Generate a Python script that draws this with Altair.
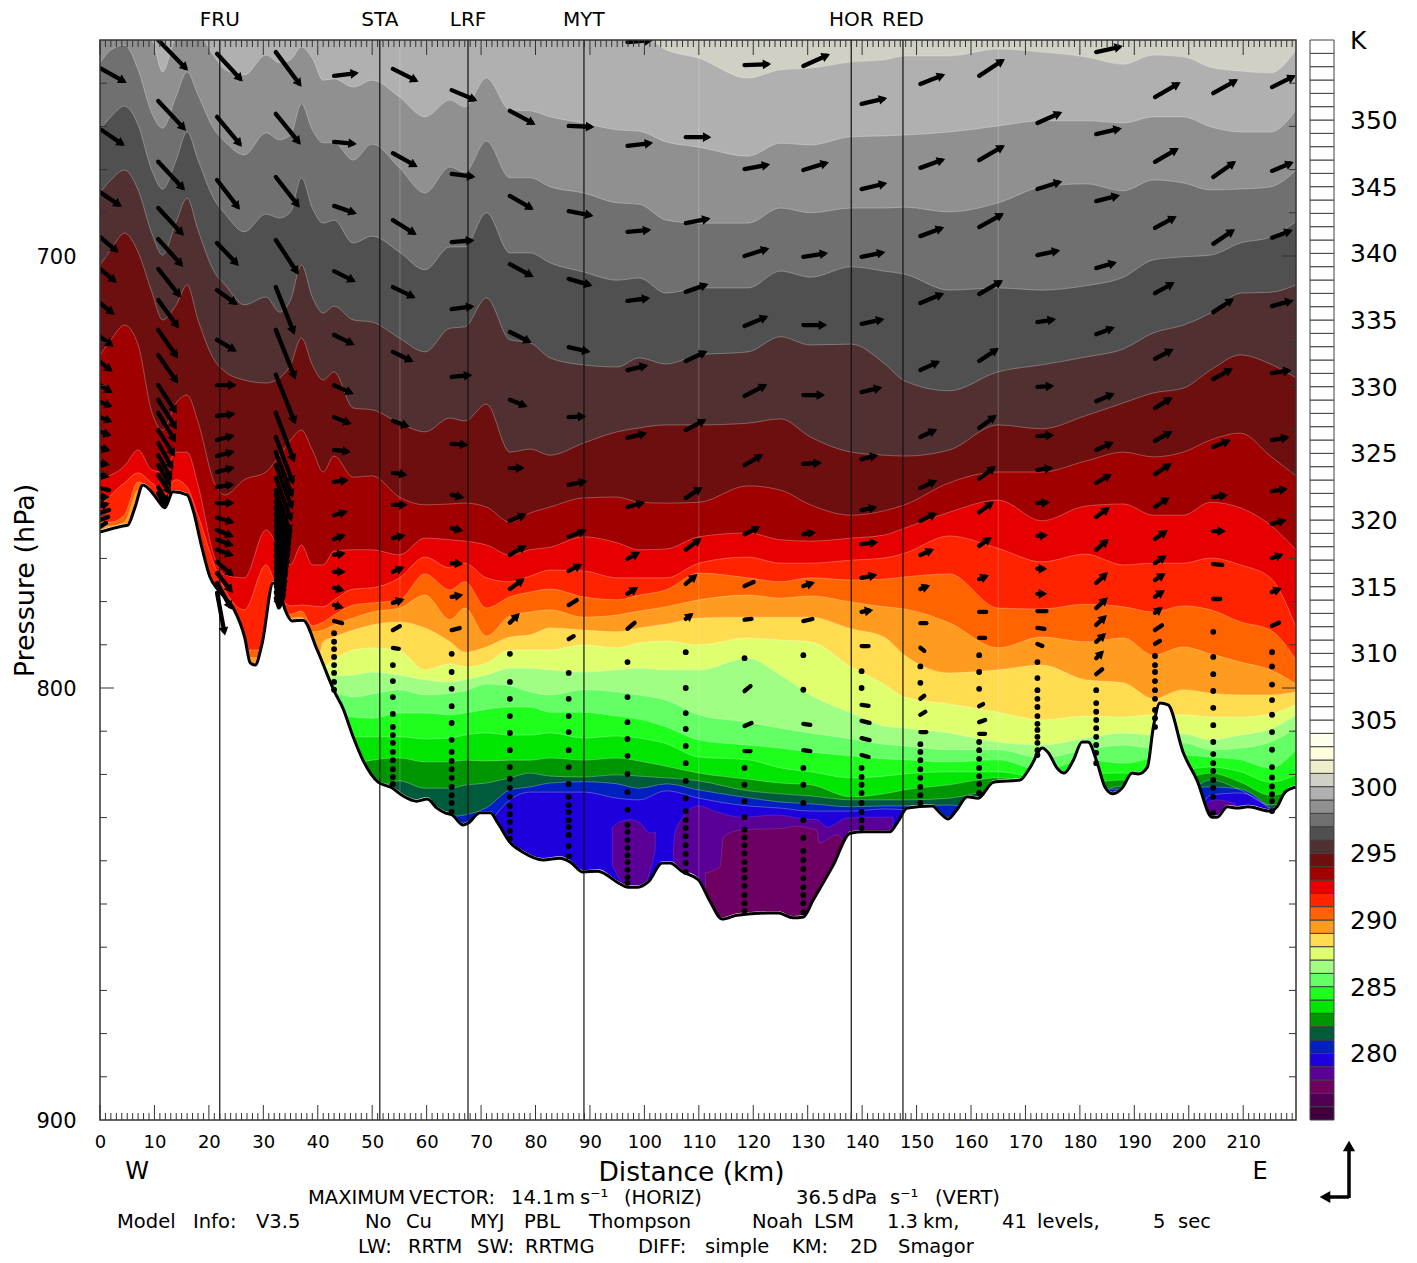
import math
import altair as alt

FONT = "DejaVu Sans"

# ---------- isentrope boundaries (hPa) on a distance grid (km) ----------
GRID = [0,2,4.5,7,9.5,11.5,14,16,18,21,23,26.5,30.5,33,35,37,39,41,43,46.5,50,55,59.7,64.3,67,71,75.3,79,82.7,88.8,95,99,104,110,119,125,130.5,138,144,147.8,156,165,173,181,188,193.5,199,204,209.5,215,219.7]
LOW = GRID[15:]

C0 = [648.5]*32 + [652.3,654.2,658.8,656.9,656.5,655.1,654.6,653.7,653.7,652.1,652.8,653.9,655.6,653.5,653.9,656.3,657.2,657.6,652.3]
C1 = [648.8,648.8,648.8,648.8,650.0,657.4,649.5,648.8,648.8,653.9,656.9,658.1,653.5,655.3,654.6,651.6,654.2,659.3,659.0,660.9,659.3,663.2,667.8,663.9,665.5,658.8,666.2,666.4,667.8,669.2,670.8,671.1,673.6,674.8,676.9,673.9,674.3,672.4,672.2,672.0,671.3,669.9,668.7,668.7,669.2,667.8,667.8,670.1,671.3,671.3,666.2]
C2 = [655.3,652.3,651.2,656.9,666.9,670.4,663.0,657.4,662.7,670.8,673.6,676.6,671.5,673.1,672.0,664.8,670.8,673.8,673.8,677.8,674.1,679.6,685.4,679.4,680.6,673.4,681.9,681.9,684.0,685.4,687.7,688.0,691.7,692.4,692.4,688.9,690.0,688.9,688.9,688.7,689.8,687.7,684.0,683.3,684.9,682.4,683.1,684.7,684.5,684.0,680.1]
C3 = [670.8,667.8,665.3,669.7,680.1,684.5,677.8,671.3,677.8,687.0,690.3,694.4,690.3,691.2,689.8,681.9,688.9,692.4,691.7,697.0,695.4,699.1,703.2,697.9,697.9,690.0,699.3,699.3,701.6,703.7,705.6,705.1,708.6,707.4,707.4,703.5,704.9,702.5,703.5,704.2,707.9,707.4,707.9,706.9,704.9,700.9,700.2,699.8,697.0,695.6,692.1]
C4 = [685.4,682.4,680.1,684.7,694.7,699.8,692.1,686.6,694.0,703.7,706.7,711.3,709.5,713.0,710.2,702.1,709.5,713.2,711.6,714.8,715.3,719.0,722.2,716.7,716.4,709.7,719.4,720.1,723.6,725.2,725.7,723.6,725.0,722.9,722.2,718.7,720.6,720.4,724.8,728.9,731.2,726.8,725.2,723.4,721.5,717.8,716.0,713.2,708.6,708.4,706.7]
C5 = [702.1,698.6,694.7,699.1,708.3,714.8,711.3,706.7,714.8,724.1,726.8,728.7,729.4,728.2,725.2,719.0,725.2,728.7,726.8,735.2,735.6,738.7,740.7,737.5,738.2,734.3,745.4,744.7,746.1,743.3,740.7,739.8,739.1,739.1,738.7,737.7,741.9,745.4,746.1,746.3,744.9,739.1,740.0,737.0,734.0,731.7,730.6,726.4,722.9,725.0,728.2]
C6 = [722.9,719.4,716.0,720.6,736.1,740.3,734.0,732.2,738.4,752.5,755.3,751.8,750.0,746.1,742.6,740.3,744.9,750.0,746.3,751.2,750.9,755.8,757.6,757.4,757.2,758.1,761.6,759.5,758.1,756.0,755.8,757.0,757.2,757.0,753.2,754.2,757.6,760.0,759.0,757.6,752.5,750.0,750.0,747.5,745.4,746.5,745.4,742.6,741.0,746.3,750.9]
C7 = [751.2,750.7,748.6,744.9,749.5,750.0,745.4,745.4,753.0,769.7,773.8,774.5,763.4,768.0,771.5,766.9,771.5,771.5,768.3,768.0,768.0,769.2,765.3,765.7,766.0,766.9,769.2,768.0,767.4,765.0,766.4,768.0,767.8,765.0,764.1,765.7,766.0,765.3,764.6,763.0,759.3,756.5,761.3,757.9,757.4,760.0,760.0,757.0,758.3,762.3,768.0]
C8 = [758.1,755.3,752.5,750.2,752.5,754.2,751.8,753.5,760.0,771.5,777.3,781.9,771.5,778.5,781.0,780.8,781.0,781.2,779.6,777.1,776.8,774.5,769.7,772.2,771.1,774.5,775.4,774.1,772.7,772.9,774.5,774.5,774.5,771.1,769.7,771.1,771.1,770.4,769.9,768.8,764.8,767.7,770.8,769.0,771.5,771.1,771.1,769.9,771.5,774.5,785.9]
C9 = [761.6,761.6,759.9,752.3,754.6,757.6,755.3,755.8,763.4,777.3,782.4,791.2,791.2,782.4,782.9,782.2,785.6,784.7,783.1,780.8,780.3,779.6,773.6,777.3,775.4,781.5,778.9,777.8,777.1,778.9,779.6,778.5,777.3,773.4,774.5,775.4,774.5,775.0,774.8,774.3,773.6,781.5,781.7,780.6,781.2,782.4,781.0,781.9,784.7,786.6,793.5]
C10 = [762.5,762.5,761.6,754.2,755.3,758.3,755.8,756.5,764.6,779.6,784.2,793.0,793.0,784.2,783.8,783.6,787.0,786.6,785.4,783.8,782.4,781.5,778.5,784.2,781.5,788.0,783.3,782.4,781.9,783.6,783.1,782.2,781.2,779.6,778.5,779.2,778.7,780.1,781.2,781.7,784.9,790.7,788.2,789.3,788.4,792.4,790.5,792.1,794.0,795.8,799.1]
C11 = [802.8,802.8,789.3,788.2,786.6,785.4,784.7,786.1,789.3,791.7,790.5,788.2,787.7,786.1,786.6,787.0,786.1,785.2,783.8,783.6,783.6,783.6,786.3,788.2,792.4,796.5,795.8,794.7,798.1,798.8,802.5,800.4,801.2,801.6,801.6,800.9]
C12 = [805.1,803.9,795.8,793.5,791.2,790.7,791.4,795.8,794.4,795.1,794.2,791.2,791.2,791.2,790.0,790.7,789.6,789.1,790.0,788.4,788.9,789.3,795.1,799.1,802.1,803.7,805.6,807.4,806.5,806.7,806.2,806.2,806.7,806.7,806.0,803.9]
C13 = [807.4,806.2,801.6,797.2,797.0,796.3,797.0,798.1,798.6,798.1,797.0,795.4,795.4,795.8,796.3,795.8,795.4,795.8,795.8,793.1,797.0,801.6,805.8,808.8,809.3,810.4,812.5,813.2,811.6,810.4,810.9,810.6,812.0,810.9,809.5,806.2]
C14 = [809.7,808.6,805.1,801.2,802.1,801.4,800.4,801.6,801.2,800.7,799.1,799.5,800.9,801.6,800.4,800.9,801.6,802.8,806.2,807.9,809.3,810.4,811.8,813.0,813.4,814.3,814.3,816.2,814.3,813.2,813.9,812.7,814.3,813.9,812.5,809.3]
C15 = [812.0,810.9,808.6,806.2,806.7,807.0,805.8,805.8,806.2,805.8,804.9,804.4,804.4,805.6,805.6,806.5,807.2,809.0,812.0,813.2,813.9,814.8,815.7,816.4,816.6,817.1,816.6,819.0,816.6,817.4,816.2,815.5,816.0,816.6,818.5,814.3]
C16 = [816.6,815.5,813.2,812.0,811.3,811.3,811.3,811.8,811.6,810.9,810.4,810.9,810.9,810.4,811.6,811.1,811.6,812.9,816.0,816.6,818.5,819.4,820.8,820.4,819.9,819.4,819.4,820.8,819.9,819.7,820.1,819.0,818.3,819.4,821.8,820.1]
C17 = [823.6,822.4,820.1,819.0,817.8,816.7,816.2,817.1,817.1,816.7,816.9,816.7,816.7,816.2,816.7,816.2,816.9,818.1,819.7,821.1,822.0,822.4,825.2,824.5,823.6,822.4,820.8,822.4,822.0,821.3,823.6,821.3,819.7,821.8,824.8,823.6]
C18 = [828.2,828.2,825.9,825.9,824.8,823.6,821.5,823.2,823.2,822.5,822.0,820.8,819.7,820.4,820.6,820.1,820.4,820.8,821.5,823.8,824.5,825.0,825.9,825.9,825.9,825.5,823.6,825.9,824.8,822.7,825.9,824.8,821.3,823.6,827.1,825.9]
C19 = [834.0,834.0,834.0,834.0,834.0,834.0,834.0,832.8,829.9,829.4,827.7,823.6,822.9,822.0,821.7,822.2,823.2,822.2,823.6,825.4,826.4,826.8,827.5,827.3,827.3,827.1,829.4,832.8,823.6,823.4,823.6,823.1,822.9,823.4,827.8,832.8]
C20 = [835.2,835.2,835.2,835.2,835.2,835.2,835.2,835.2,835.2,835.2,831.7,825.9,824.1,824.1,824.1,825.5,825.9,823.8,825.5,827.3,827.8,828.5,828.5,828.0,828.2,835.2,835.2,835.2,835.2,835.2,835.2,835.2,824.8,824.3,828.2,835.2]

COL_CREAM = "#d0d0c4"
UPPER_COLORS = ["#b0b0b0","#909090","#707070","#505050","#503030","#6e0f0f","#a00000","#e60000","#ff2300","#ff6400","#ff9b1e"]
LOWER_COLORS = ["#ffdc50","#e0ff6e","#a0ff82","#64ff64","#1eff1e","#00e600","#009600","#005a3c","#0020c0","#1e00dc"]
UPPER = [C0,C1,C2,C3,C4,C5,C6,C7,C8,C9,C10]
LOWER = [C11,C12,C13,C14,C15,C16,C17,C18,C19,C20]

# purple pools in the basin: distance, top, bottom
COL_PURPLE = "#5a0096"
COL_MAGENTA = "#6e0064"
POOL_A_KM = [94.1,95.5,97.4,99.2,101.0,102.0]
POOL_A_TOP = [832.2,831.0,830.5,831.2,833.6,833.3]
POOL_A_BOT = [841.0,844.4,847.2,847.2,842.6,837.5]
POOL_B_KM = [105.3,105.6,107.1,109.9,113.4,117.6,124.4,129.2,131.7,133.6,137.2,140.9,145.7]
POOL_B_TOP = [838.2,833.6,829.9,827.3,828.7,829.9,829.4,830.3,830.5,832.2,830.1,829.9,829.9]
POOL_B_BOT = [838.7,841.7,860,860,860,860,860,860,860,860,860,860,860]
POOL_C_KM = [203.0,203.4,205.2,207.6,208.9]
POOL_C_TOP = [830.0,826.6,825.9,826.4,827.1]
POOL_C_BOT = [835,835,835,835,835]
POOL_D_KM = [111.2,113.9,114.5,117.6,126.2,127.3,131.7,132.1,135.4,136.9]
POOL_D_TOP = [842.8,841.4,834.5,832.9,832.4,832.0,832.9,835.9,834.0,836.3]
POOL_D_BOT = [860,860,860,860,860,860,860,860,860,860]

# ---------- terrain ----------
TERRAIN_KM = [0,4.2,5.1,6.4,7.9,9.2,10.5,11.9,13.4,16.0,17.1,18.7,20.2,21.7,24.4,26.6,27.6,28.5,29.8,31.8,32.9,34.0,35.3,37.3,39.9,43.2,44.6,46.5,48.3,51.1,53.6,55.7,58.2,60.1,61.9,63.4,64.7,66.7,67.6,69.8,71.7,73.1,75.3,77.7,81.4,84.5,86.4,88.7,91.5,95.2,97.0,98.8,100.7,103.3,104.7,107.1,109.9,112.1,114.3,117.0,122.5,124.6,127.3,129.2,131.0,134.7,137.8,140.5,145.1,146.4,148.3,152.9,154.3,155.8,157.4,159.3,161.3,164.1,169.0,170.9,173.1,174.2,175.8,177.1,178.8,180.4,181.5,183.2,184.6,186.1,187.8,189.6,190.7,192.4,193.5,194.7,196.2,199.0,201.5,204.3,205.2,207.1,208.9,210.9,215.0,216.2,217.7,219.7]
TERRAIN_P = [763.9,762.5,762.3,758.3,753.0,754.2,756.3,758.3,754.6,755.3,758.8,767.4,774.3,777.3,781.3,788.4,794.2,794.7,789.6,775.7,777.3,781.9,784.5,784.3,791.2,801.2,804.6,811.3,816.7,821.8,823.1,825.0,826.2,825.7,827.8,828.9,829.4,831.7,831.3,828.9,828.9,831.3,835.7,838.0,839.8,839.4,840.3,842.6,842.4,845.1,846.1,846.1,844.9,840.5,840.5,842.6,844.4,849.5,853.5,852.6,852.1,852.1,853.2,853.0,849.1,841.0,833.6,833.3,833.3,831.3,827.8,827.3,828.9,830.3,828.2,825.2,825.5,821.8,821.3,818.3,813.9,815.0,818.5,819.7,816.7,812.5,812.5,817.4,822.9,824.5,823.1,819.7,819.9,818.3,809.0,803.5,803.9,815.0,821.3,829.9,829.9,827.5,827.8,827.5,828.5,827.5,824.1,822.9]

# ---------- stations ----------
STATIONS = ["FRU","STA","LRF","MYT","HOR","RED"]
STATION_KM = [22.0,51.4,67.6,88.9,138.0,147.5]
SEAM_KM = [55.1,110.0,165.0]

# ---------- wind vectors per column: tail pressure (hPa), u (m/s), w (dPa/s), calm dots (hPa) ----------
COL_KM = [0,10.7,21.5,32.3,43,53.8,64.6,75.3,86.1,96.9,107.6,118.4,129.2,139.9,150.7,161.5,172.2,183,193.8,204.5,215.3]
P00 = [656.5,670.6,685.2,695.6,703.0,710.9,718.7,724.5,729.9,733.8,737.3,740.7,744.4,747.9,750.7,753.7,755.8,757.9,759.5,761.1,762.7]
U00 = [13.1,12.2,10.7,9.2,8.3,7.3,6.8,6.3,6.3,6.3,6.3,5.8,5.3,4.9,4.9,4.4,4.9,4.9,4.4,3.9,2.9]
W00 = [9.4,10.7,9.4,10.1,8.8,7.5,6.3,6.3,5.0,3.1,3.1,2.5,1.9,1.3,1.3,1.3,0,-1.9,-1.9,-1.9,-2.5]
D00 = []
P01 = [650.0,664.1,678.2,688.9,696.1,703.0,710.2,717.1,722.9,729.9,733.3,736.3,740.3,743.3,746.1,748.4,750.7,753.5,754.9]
U01 = [14.6,13.6,13.1,12.6,12.2,11.2,10.2,9.7,9.7,9.2,9.2,8.7,8.3,7.3,6.8,6.3,6.3,4.9,3.9]
W01 = [19.5,18.9,18.2,17.6,17.6,18.2,18.2,18.2,18.2,18.2,18.9,18.9,17.0,17.0,15.7,13.8,12.6,10.7,9.4]
D01 = []
P02 = [653.2,667.8,682.4,697.0,707.9,719.4,729.9,737.0,742.6,746.3,750.0,753.5,757.2,760.6,763.4,765.7,768.0,770.8,773.4,775.7,778.0]
U02 = [12.6,12.2,11.2,10.7,10.2,9.7,9.7,9.2,8.7,8.7,8.7,8.7,8.7,8.7,8.3,8.3,8.3,8.3,7.8,7.3,3.9]
W02 = [17.6,18.9,18.9,14.5,9.4,7.5,0,-1.3,-3.1,-3.1,-3.1,-1.9,0,3.1,4.4,3.8,3.8,9.4,12.6,17.0,27.0]
D02 = []
P03 = [652.8,667.1,681.7,696.3,707.2,717.1,727.5,736.3,741.9,745.4,748.4,751.4,754.2,755.3,756.9,758.3,759.7,761.1,762.5,763.9,765.3,766.7,768.0,769.4,770.8,772.2,773.6,775.0,776.4,777.8,779.2]
U03 = [12.6,12.2,11.7,11.2,9.2,9.7,9.7,9.2,8.7,8.3,8.3,7.8,7.3,7.3,6.9,6.6,6.3,5.9,5.6,5.3,4.9,4.6,4.4,4.1,3.9,3.6,3.4,2.9,2.6,2.2,1.5]
W03 = [22.0,19.5,19.5,22.0,30.2,31.5,31.5,31.5,30.2,28.9,28.3,27.7,27.7,27.7,27.7,27.7,27.7,27.7,27.7,26.4,26.4,25.2,25.2,24.0,23.0,22.0,20.0,17.0,14.0,10.0,5.7]
D03 = []
P04 = [658.3,673.6,688.4,703.5,718.3,729.9,737.3,744.9,752.3,760.0,765.5,769.2,773.1,776.8,780.8,784.5]
U04 = [12.2,11.2,11.2,10.7,10.2,9.7,8.7,8.3,7.3,6.8,5.8,5.8,5.8,5.3,4.9,3.9]
W04 = [-1.9,1.3,5.0,6.9,6.3,5.7,4.4,1.3,-1.3,-2.5,-2.5,-1.3,0,1.9,1.9,1.3]
D04 = [787.3,789.3,791.0,792.8,794.7,796.5,798.6,800.4]
P05 = [656.7,676.2,691.7,707.2,722.2,738.2,750.2,757.6,765.3,773.1,780.3,786.6,790.7]
U05 = [12.6,12.2,11.7,11.2,10.2,8.3,7.3,7.3,6.3,5.8,5.8,3.4,2.9]
W05 = [8.2,8.8,9.4,6.9,6.3,3.8,1.3,0,-1.9,-3.1,-2.5,-2.5,0.6]
D05 = [794.7,798.4,802.1,806.0,809.0,810.9,812.7,814.8,816.7,818.8,820.6,822.2]
P06 = [661.6,681.0,696.8,712.3,728.0,743.5,755.3,763.0,771.1,778.9,786.6]
U06 = [12.6,11.7,11.2,11.2,10.2,8.3,6.3,5.8,5.8,5.8,3.9]
W06 = [6.9,1.9,-1.3,-1.9,-1.3,0.6,1.9,1.9,0.6,-1.3,-1.3]
D06 = [792.1,796.3,800.2,804.2,808.1,812.0,814.8,816.9,818.8,820.8,822.9,824.8,826.6,828.7]
P07 = [666.4,686.1,701.9,717.6,733.3,749.1,761.3,769.2,777.1,784.9]
U07 = [12.6,11.7,11.7,10.7,8.7,7.3,8.3,8.3,7.3,4.9]
W07 = [8.8,8.8,8.2,6.9,4.4,0,-4.4,-6.3,-6.9,-6.3]
D07 = [792.1,798.6,802.5,806.5,810.4,814.4,818.3,821.0,823.1,825.2,827.3,829.2,831.0,833.1,834.9]
P08 = [669.9,689.6,705.3,721.1,737.3,753.0,765.0,772.9,780.8,788.7]
U08 = [12.6,12.2,11.7,10.7,8.7,9.2,8.7,6.8,3.9,2.4]
W08 = [0.6,3.1,4.4,3.1,-0.6,-2.5,-4.4,-4.4,-3.1,-1.9]
D08 = [796.5,802.5,806.5,810.2,814.4,818.3,822.2,825.2,827.1,828.7,830.6,832.2,834.0,836.6,838.9]
P09 = [650.5,674.5,694.4,710.4,726.4,742.1,758.1,770.1,778.2,786.3]
U09 = [12.6,12.6,11.7,11.2,10.2,9.7,8.7,6.3,5.3,3.4]
W09 = [-1.3,-1.9,-1.3,-1.9,-3.1,-3.1,-3.1,-4.4,-4.4,-3.8]
D09 = [794.0,802.1,807.9,811.8,815.7,819.9,824.1,828.2,831.7,833.3,835.2,837.0,838.7,840.3,842.1,843.8,845.1]
P10 = [672.5,692.4,708.3,724.3,740.3,756.0,768.0,775.9,784.0]
U10 = [12.6,12.2,11.2,10.7,10.2,8.3,7.8,5.8,3.9]
W10 = [0,-3.1,-5.0,-6.3,-6.9,-6.9,-7.5,-6.3,-3.8]
D10 = [791.7,800.0,805.8,809.5,813.4,817.4,821.5,825.5,828.5,830.6,832.4,834.3,836.4,838.4,840.5,842.6]
P11 = [655.8,679.9,700.0,716.2,732.4,748.4,764.4,776.4,784.2,800.7,808.8,814.6]
U11 = [13.1,12.6,12.2,11.7,11.2,9.2,7.8,4.4,3.4,2.9,3.4,2.9]
W11 = [-0.6,-3.1,-5.0,-6.3,-7.5,-6.9,-5.0,-2.5,-0.6,-3.1,-1.9,0]
D11 = [793.1,818.5,822.4,826.2,829.9,832.8,834.6,836.4,838.3,840.3,842.1,843.9,845.8,847.9,849.8,851.6]
P12 = [656.0,680.1,700.2,716.0,732.2,748.1,764.4,776.4,784.5,808.3,814.4]
U12 = [13.1,12.6,12.2,11.7,10.7,9.2,6.3,5.8,4.4,3.4,3.4]
W12 = [-7.5,-5.0,-2.5,0,0,-0.6,-1.3,-2.5,-1.3,0.6,0.6]
D12 = [792.4,800.4,818.5,822.4,826.6,830.6,834.7,837.7,839.8,841.9,844.0,846.1,847.9,849.8,851.9]
P13 = [664.8,684.5,700.2,715.7,731.5,747.0,758.8,766.7,774.5,782.4,790.3,803.9,807.6,811.6,815.5]
U13 = [12.6,12.6,11.7,11.2,10.2,8.3,7.8,8.3,7.8,5.8,3.4,3.4,3.9,3.9,3.4]
W13 = [-3.8,-3.8,-3.1,-3.1,-3.1,-2.5,-1.9,-1.3,-1.9,-1.3,0,0.6,1.3,1.3,1.3]
D13 = [796.1,800.0,818.5,820.6,822.4,824.3,826.6,828.7,830.6,832.4]
P14 = [660.2,679.6,695.4,710.9,726.4,741.9,753.7,761.3,769.2,777.1,785.0,790.7,802.5,806.2,810.2]
U14 = [12.2,12.2,11.7,11.7,9.7,8.3,8.3,8.3,6.8,4.9,2.9,1.9,1.9,2.4,2.9]
W14 = [-6.3,-5.7,-5.7,-6.3,-5.7,-5.0,-5.0,-5.0,-3.8,-2.5,0,1.9,-1.9,-1.9,0]
D14 = [795.0,798.8,813.0,814.8,816.7,818.8,820.8,822.9,824.8,826.6]
P15 = [658.3,677.8,693.3,708.8,724.3,739.8,751.6,759.3,767.1,774.8,782.4,788.4,804.2,807.9,810.6]
U15 = [12.6,12.6,12.2,11.7,9.7,8.7,8.3,7.3,6.3,4.9,3.4,2.9,1.9,2.9,2.9]
W15 = [-10.7,-9.4,-8.8,-8.8,-8.2,-8.2,-8.2,-6.9,-5.7,-2.5,0,0,-1.3,-1.3,0]
D15 = [792.4,796.3,800.2,812.5,814.4,816.4,818.5,820.4,822.2,824.3]
P16 = [669.2,684.5,699.8,715.3,730.3,741.7,749.5,757.2,764.8,772.4,778.2,782.2,786.1,789.8]
U16 = [12.2,12.2,11.2,9.2,8.3,8.3,7.8,6.3,5.3,4.9,4.9,4.4,3.4,2.4]
W16 = [-6.9,-5.0,-3.1,-1.9,-0.6,-0.6,-1.3,-0.6,-0.6,0,0,0,0.6,1.3]
D16 = [794.0,797.7,800.5,802.5,804.4,806.5,808.3,809.7,811.3,812.7,814.4,815.5]
P17 = [652.8,671.8,687.3,702.8,718.1,733.6,744.9,752.5,760.4,768.0,775.7,781.5,785.4,789.3,793.1,796.8]
U17 = [13.1,12.6,11.7,10.2,9.2,9.2,8.7,7.8,6.8,6.3,5.8,5.8,5.3,4.9,3.9,2.9]
W17 = [-3.8,-3.8,-3.8,-3.8,-4.4,-5.0,-5.0,-5.7,-6.3,-6.9,-6.9,-6.9,-6.3,-5.7,-5.0,-3.1]
D17 = [800.5,803.5,805.5,807.4,809.3,811.3,813.2,815.0,817.4]
P18 = [663.2,678.2,693.5,708.6,723.8,735.2,742.8,750.5,758.1,765.5,771.1,775.0,778.9,782.6,786.6,789.8]
U18 = [12.6,11.7,10.7,9.7,9.2,8.7,8.7,8.3,7.3,6.3,5.8,5.3,4.9,3.9,3.4,2.4]
W18 = [-9.4,-8.8,-7.5,-6.9,-6.3,-6.9,-6.3,-6.9,-6.3,-5.7,-5.0,-4.4,-4.4,-3.8,-3.1,-1.9]
D18 = [792.6,794.7,796.3,798.4,800.5,802.5,805.1,807.0,809.0]
P19 = [662.3,681.7,697.2,713.0,728.5,744.2,755.8,763.7,771.3,779.4]
U19 = [12.2,11.2,10.7,10.2,9.7,8.7,7.3,6.3,4.4,3.4]
W19 = [-8.8,-10.1,-9.4,-8.8,-6.9,-4.4,-1.3,0,0.6,0]
D19 = [787.0,792.8,796.8,800.7,804.6,808.6,812.5,815.3,817.4,819.2,821.3,823.1,825.2,828.9]
P20 = [660.9,680.3,695.8,711.6,727.1,742.6,754.4,762.0,769.9,777.8,785.6]
U20 = [11.7,10.7,10.2,10.7,9.7,8.7,7.8,7.3,5.8,4.9,3.4]
W20 = [-7.5,-5.7,-5.0,-3.8,-1.9,-1.9,-1.3,-2.5,-2.5,-2.5,-1.9]
D20 = [791.7,795.0,799.2,802.8,806.2,810.2,814.3,818.3,820.7,822.8,824.6,826.2,828.5]

COLUMNS = [(COL_KM[0],P00,U00,W00,D00),(COL_KM[1],P01,U01,W01,D01),(COL_KM[2],P02,U02,W02,D02),(COL_KM[3],P03,U03,W03,D03),
           (COL_KM[4],P04,U04,W04,D04),(COL_KM[5],P05,U05,W05,D05),(COL_KM[6],P06,U06,W06,D06),(COL_KM[7],P07,U07,W07,D07),
           (COL_KM[8],P08,U08,W08,D08),(COL_KM[9],P09,U09,W09,D09),(COL_KM[10],P10,U10,W10,D10),(COL_KM[11],P11,U11,W11,D11),
           (COL_KM[12],P12,U12,W12,D12),(COL_KM[13],P13,U13,W13,D13),(COL_KM[14],P14,U14,W14,D14),(COL_KM[15],P15,U15,W15,D15),
           (COL_KM[16],P16,U16,W16,D16),(COL_KM[17],P17,U17,W17,D17),(COL_KM[18],P18,U18,W18,D18),(COL_KM[19],P19,U19,W19,D19),
           (COL_KM[20],P20,U20,W20,D20)]

# ---------- colour bar ----------
BAR_COLORS = ["#40003f","#4f0050","#6e0064","#5a0096","#1e00dc","#0020c0","#005a3c","#009600","#00e600","#1eff1e","#64ff64","#a0ff82","#e0ff6e","#ffdc50","#ff9b1e","#ff6400","#ff2300","#e60000","#a00000","#6e0f0f","#503030","#505050","#707070","#909090","#b0b0b0","#d0d0c4","#eeeecc","#ffffdd","#ffffee"]
BAR_START = 275
BAR_END = 356
BAR_LABELS = [280,285,290,295,300,305,310,315,320,325,330,335,340,345,350]

W = 1196
H = 1080
XS = alt.Scale(domain=[0,219.7], nice=False, zero=False)
YS = alt.Scale(domain=[900,650], nice=False, zero=False)
TS = alt.Scale(domain=[BAR_START,BAR_END], nice=False, zero=False)
KM_PER_MS = 0.3779
HPA_PER_DPA = 0.3678
PX_PER_KM = W/219.7
PX_PER_HPA = H/250.0


def X(f="km"):
    return alt.X(f"{f}:Q", scale=XS, axis=None)


def Y(f="p"):
    return alt.Y(f"{f}:Q", scale=YS, axis=None)


layers = []

# base (carries the axes)
base_rows = [{"km":0,"p":650,"b":900},{"km":219.7,"p":650,"b":900}]
layers.append(alt.Chart(alt.Data(values=base_rows)).mark_area(color=COL_CREAM).encode(
    x=alt.X("km:Q", scale=XS, axis=alt.Axis(
        values=list(range(0,220,10)), title="Distance (km)", format="d", ticks=False, domain=False, grid=False,
        labelFont=FONT, labelFontSize=18, labelColor="black", labelPadding=13, labelFlush=False, labelOverlap=False,
        titleFont=FONT, titleFontSize=26.5, titleFontWeight="normal", titleColor="black", titlePadding=8, titleX=591)),
    y=alt.Y("p:Q", scale=YS, axis=alt.Axis(
        values=[700,800,900], title="Pressure (hPa)", format="d", ticks=False, domain=False, grid=False,
        labelFont=FONT, labelFontSize=21, labelColor="black", labelPadding=24, labelOffset=1, labelFlush=False, labelOverlap=False,
        titleFont=FONT, titleFontSize=27, titleFontWeight="normal", titleColor="black", titlePadding=-4)),
    y2=alt.Y2("b:Q")))

line_rows = []
def add_band(kms, ps, color, name):
    rows = [{"km":k,"p":p,"b":900,"band":name} for k,p in zip(kms,ps,strict=True)]
    line_rows.extend(rows)
    layers.append(alt.Chart(alt.Data(values=rows)).mark_area(color=color, interpolate="monotone", clip=True).encode(
        x=X(), y=Y(), y2=alt.Y2("b:Q")))

for i,(c,col) in enumerate(zip(UPPER,UPPER_COLORS,strict=True)):
    add_band(GRID,c,col,f"u{i}")
for i,(c,col) in enumerate(zip(LOWER,LOWER_COLORS,strict=True)):
    add_band(LOW,c,col,f"l{i}")

def add_pool(kms,top,bot,color):
    rows = [{"km":k,"p":t,"b":b} for k,t,b in zip(kms,top,bot,strict=True)]
    layers.append(alt.Chart(alt.Data(values=rows)).mark_area(color=color, interpolate="monotone", clip=True, stroke="#ffffff", strokeOpacity=0.2, strokeWidth=0.6).encode(
        x=X(), y=Y(), y2=alt.Y2("b:Q")))

add_pool(POOL_A_KM,POOL_A_TOP,POOL_A_BOT,COL_PURPLE)
add_pool(POOL_B_KM,POOL_B_TOP,POOL_B_BOT,COL_PURPLE)
add_pool(POOL_C_KM,POOL_C_TOP,POOL_C_BOT,COL_PURPLE)
add_pool(POOL_D_KM,POOL_D_TOP,POOL_D_BOT,COL_MAGENTA)

# pale contour lines
layers.append(alt.Chart(alt.Data(values=line_rows)).mark_line(color="#ffffff", opacity=0.35, strokeWidth=0.8, interpolate="monotone", clip=True).encode(
    x=X(), y=Y(), detail="band:N"))

# pale seams
layers.append(alt.Chart(alt.Data(values=[{"km":k} for k in SEAM_KM])).mark_rule(color="#ffffff", opacity=0.22, strokeWidth=1).encode(x=X()))

# terrain mask
ter_rows = [{"km":k,"p":p,"m":p-0.45,"b":900} for k,p in zip(TERRAIN_KM,TERRAIN_P,strict=True)]
layers.append(alt.Chart(alt.Data(values=ter_rows)).mark_area(color="#ffffff", interpolate="monotone", clip=True).encode(
    x=X(), y=Y("m"), y2=alt.Y2("b:Q")))

# station lines
layers.append(alt.Chart(alt.Data(values=[{"km":k} for k in STATION_KM])).mark_rule(color="#111111", strokeWidth=1.2).encode(x=X()))

layers.append(alt.Chart(alt.Data(values=ter_rows)).mark_line(color="#000000", strokeWidth=3, interpolate="monotone", clip=True).encode(
    x=X(), y=Y()))

# vectors
vec_rows, head_rows, dot_rows = [], [], []
for km,ps,us,ws,ds in COLUMNS:
    for p,u,w in zip(ps,us,ws,strict=True):
        dxp = u*KM_PER_MS*PX_PER_KM
        dyp = w*HPA_PER_DPA*PX_PER_HPA
        L = math.hypot(dxp,dyp)
        if L >= 10:
            t = 1-4.5/L
            hx = km+u*KM_PER_MS*t
            hp = p+w*HPA_PER_DPA*t
            head_rows.append({"km":hx,"p":hp,"a":(math.degrees(math.atan2(dxp,-dyp))+360)%360})
        else:
            t = 1.0
        vec_rows.append({"km":km,"p":p,"km2":km+u*KM_PER_MS*t,"p2":p+w*HPA_PER_DPA*t})
    for p in ds:
        dot_rows.append({"km":km,"p":p})

layers.append(alt.Chart(alt.Data(values=vec_rows)).mark_rule(color="#000000", strokeWidth=4.3, strokeCap="round", clip=True).encode(
    x=X(), y=Y(), x2=alt.X2("km2:Q"), y2=alt.Y2("p2:Q")))
layers.append(alt.Chart(alt.Data(values=head_rows)).mark_point(shape="triangle-up", filled=True, size=95, color="#000000", opacity=1, clip=True).encode(
    x=X(), y=Y(), angle=alt.Angle("a:Q", scale=None)))
layers.append(alt.Chart(alt.Data(values=dot_rows)).mark_point(shape="circle", filled=True, size=34, color="#000000", opacity=1, clip=True).encode(
    x=X(), y=Y()))

# ticks
TICK = "#333333"
minor_x = [{"km":k} for k in range(0,220) if k%10]
major_x = [{"km":k} for k in range(0,220,10)]
minor_y = [{"p":p} for p in range(660,900,10) if p%100]
major_y = [{"p":p} for p in (700,800)]
for rows,ln in ((minor_x,7),(major_x,15)):
    layers.append(alt.Chart(alt.Data(values=rows)).mark_rule(color=TICK,strokeWidth=1).encode(x=X(),y=alt.value(H),y2=alt.value(H-ln)))
    layers.append(alt.Chart(alt.Data(values=rows)).mark_rule(color=TICK,strokeWidth=1).encode(x=X(),y=alt.value(0),y2=alt.value(ln)))
for rows,ln in ((minor_y,7),(major_y,14)):
    layers.append(alt.Chart(alt.Data(values=rows)).mark_rule(color=TICK,strokeWidth=1).encode(y=Y(),x=alt.value(0),x2=alt.value(ln)))
    layers.append(alt.Chart(alt.Data(values=rows)).mark_rule(color=TICK,strokeWidth=1).encode(y=Y(),x=alt.value(W),x2=alt.value(W-ln)))

# frame
layers.append(alt.Chart(alt.Data(values=[{"a":1}])).mark_rect(fillOpacity=0, stroke="#333333", strokeWidth=1.5).encode(
    x=alt.value(0),x2=alt.value(W),y=alt.value(0),y2=alt.value(H)))

# colour bar
bar_rows = []
for i,t in enumerate(range(BAR_START,BAR_END)):
    bar_rows.append({"lo":t,"hi":t+1,"c":BAR_COLORS[i] if i < len(BAR_COLORS) else "#ffffff"})
layers.append(alt.Chart(alt.Data(values=bar_rows)).mark_rect(stroke="#404040", strokeWidth=1).encode(
    x=alt.value(1210),x2=alt.value(1234),
    y=alt.Y("lo:Q",scale=TS,axis=None),y2=alt.Y2("hi:Q"),
    color=alt.Color("c:N",scale=None,legend=None)))
layers.append(alt.Chart(alt.Data(values=[{"t":t} for t in BAR_LABELS])).mark_text(align="left",baseline="middle",font=FONT,fontSize=25,color="black",dy=1).encode(
    x=alt.value(1250),y=alt.Y("t:Q",scale=TS,axis=None),text=alt.Text("t:Q",format="d")))

def label(txt,px,py,size,align="left"):
    layers.append(alt.Chart(alt.Data(values=[{"a":1}])).mark_text(text=txt,align=align,baseline="middle",font=FONT,fontSize=size,color="black").encode(
        x=alt.value(px),y=alt.value(py)))

label("K",1250,1,25)
label("W",37,1132,24,"center")
label("E",1160,1132,24,"center")

ROW1 = [("MAXIMUM",208),("VECTOR:",309),("14.1",411),("m",456),("s⁻¹",480),("(HORIZ)",524),("36.5",696),("dPa",742),("s⁻¹",790),("(VERT)",835)]
ROW2 = [("Model",17),("Info:",93),("V3.5",156),("No",265),("Cu",306),("MYJ",370),("PBL",424),("Thompson",489),("Noah",652),("LSM",714),("1.3",787),("km,",823),("41",902),("levels,",937),("5",1053),("sec",1078)]
ROW3 = [("LW:",258),("RRTM",308),("SW:",377),("RRTMG",425),("DIFF:",538),("simple",605),("KM:",692),("2D",750),("Smagor",798)]
for row,py in ((ROW1,1158),(ROW2,1182),(ROW3,1207)):
    for t,px in row:
        label(t,px,py,19.5)

layers.append(alt.Chart(alt.Data(values=[{"km":k,"s":s} for k,s in zip(STATION_KM,STATIONS,strict=True)])).mark_text(baseline="middle",font=FONT,fontSize=20,color="black").encode(
    x=X(),y=alt.value(-20),text="s:N"))

# reference arrows
ARROW_RULES = [(1249,1249,1158,1104),(1249,1224,1157,1157)]
for x1,x2,y1,y2 in ARROW_RULES:
    layers.append(alt.Chart(alt.Data(values=[{"a":1}])).mark_rule(color="black",strokeWidth=3.5).encode(
        x=alt.value(x1),x2=alt.value(x2),y=alt.value(y1),y2=alt.value(y2)))
for px,py,ang in ((1249,1106,0),(1225,1157,270)):
    layers.append(alt.Chart(alt.Data(values=[{"a":1}])).mark_point(shape="triangle-up",filled=True,size=150,color="black",opacity=1).encode(
        x=alt.value(px),y=alt.value(py),angle=alt.value(ang)))

chart = alt.layer(*layers).resolve_scale(x="independent",y="independent").properties(
    width=W,height=H,
    autosize=alt.AutoSizeParams(type="none"),
    padding={"left":92,"top":32,"right":110,"bottom":140},
    background="white",
).configure_view(stroke=None)

chart.save("out.html", embed_options={"renderer":"svg","actions":False})
